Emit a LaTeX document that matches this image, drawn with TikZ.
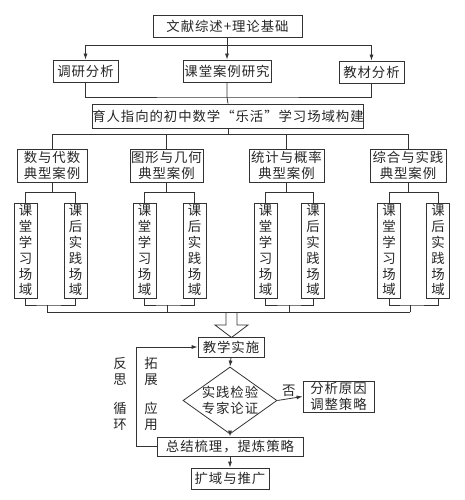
\documentclass[tikz,border=0pt]{standalone}
\usepackage{fontspec}
\newfontfamily\cjk[LetterSpace=7]{Noto Sans CJK SC}
\usetikzlibrary{arrows.meta,shapes.geometric}
\begin{document}
\begin{tikzpicture}[x=1pt,y=-1pt,
  line/.style={draw=black!80,line width=0.8pt},
  arr/.style={line,-{Latex[length=6pt,width=4pt]}},
  box/.style={draw=black!80,line width=0.8pt,inner sep=0pt,align=center,
    font=\cjk\fontsize{13.4}{16.7}\selectfont,text=black!85},
  vbox/.style={box,minimum width=23pt,minimum height=95pt,
    font=\cjk\fontsize{13.4}{15.8}\selectfont},
  lbl/.style={inner sep=0pt,align=center,text=black!85,
    font=\cjk\fontsize{13.4}{16}\selectfont}]
\useasboundingbox (0,0) rectangle (464,500);
% top level
\node[box,minimum width=149pt,minimum height=22pt] (top) at (227.5,26) {文献综述+理论基础};
\node[box,minimum width=65pt,minimum height=22pt] (r1) at (85.5,71) {调研分析};
\node[box,minimum width=88pt,minimum height=22pt] (r2) at (227,71) {课堂案例研究};
\node[box,minimum width=65pt,minimum height=22pt] (r3) at (371.5,72) {教材分析};
\node[box,minimum width=264pt,minimum height=24pt] (main) at (228,116) {育人指向的初中数学“乐活”学习场域构建};
\draw[line] (top.south) -- ++(0,8) coordinate (t);
\draw[arr] (t) -| (r1.north);
\draw[arr] (t) -- (t -| r2.north) -- (r2.north);
\draw[arr] (t) -| (r3.north);
\coordinate (j) at (227,97);
\draw[line] (r1.south) |- (j) -| (r3.south);
\draw[line] (r2.south) -- (j) -- (main.north);
% types
\node[box,minimum width=70pt,minimum height=33pt] (A) at (52,165.5) {数与代数\\典型案例};
\node[box,minimum width=73pt,minimum height=33pt] (B) at (166.5,165.5) {图形与几何\\典型案例};
\node[box,minimum width=75pt,minimum height=33pt] (C) at (286.5,165.5) {统计与概率\\典型案例};
\node[box,minimum width=76pt,minimum height=33pt] (D) at (408,165.5) {综合与实践\\典型案例};
\draw[line] (main.south) -- ++(0,6) coordinate (k);
\draw[line] (k) -| (A.north);
\draw[line] (k) -| (B.north);
\draw[line] (k) -| (C.north);
\draw[line] (k) -| (D.north);
% tall boxes
\foreach \n/\x in {A1/25.5,B1/144.5,C1/265.5,D1/389}{
  \node[vbox] (\n) at (\x,250.5) {课\\堂\\学\\习\\场\\域};}
\foreach \n/\x in {A2/75.5,B2/194.5,C2/313,D2/438}{
  \node[vbox] (\n) at (\x,250.5) {课\\后\\实\\践\\场\\域};}
\foreach \p in {A,B,C,D}{
  \draw[line] (\p.south) -- ++(0,10) coordinate (f\p);
  \draw[line] (\p1.north) |- (f\p) -| (\p2.north);}
\coordinate (bA) at (47,305);
\coordinate (bB) at (167,305);
\coordinate (bC) at (289,305);
\coordinate (bD) at (410,305);
\foreach \p in {A,B,C,D}{
  \draw[line] (\p1.south) |- (b\p) -| (\p2.south);
  \draw[line] (b\p) -- ++(0,7) coordinate (m\p);}
\draw[line] (mA) -- (mD);
% hollow arrow
\draw[line,line join=miter] (226,312) -- (226,325) -- (215,325) -- (231.5,337.5) -- (248,325) -- (237,325) -- (237,312);
% lower flow
\node[box,minimum width=66pt,minimum height=20pt] (jx) at (231,347) {教学实施};
\node[box,diamond,aspect=1.4,inner sep=-2pt,minimum width=94pt,minimum height=67pt] (dm) at (230,400.5) {实践检验\\专家论证};
\node[box,minimum width=71pt,minimum height=31pt] (fx) at (338.5,396.5) {分析原因\\调整策略};
\node[box,minimum width=146pt,minimum height=19pt] (zj) at (230,446.5) {总结梳理，提炼策略};
\node[box,minimum width=78pt,minimum height=21pt] (ky) at (230,478.5) {扩域与推广};
\draw[arr] (jx.south) -- (dm.north);
\draw[arr] (dm.east) -- node[lbl,above=2pt,pos=0.45] (no) {否} (fx.west);
\draw[arr] (dm.south) -- (zj.north);
\draw[arr] (zj.south) -- (ky.north);
\draw[arr] (zj.west) -- ++(-20,0) |- (jx.west);
\node[lbl] (l1) at (120,371) {反\\思};
\node[lbl] (l2) at (120,416.5) {循\\环};
\node[lbl] (l3) at (151,371) {拓\\展};
\node[lbl] (l4) at (151,416.5) {应\\用};
\end{tikzpicture}
\end{document}
